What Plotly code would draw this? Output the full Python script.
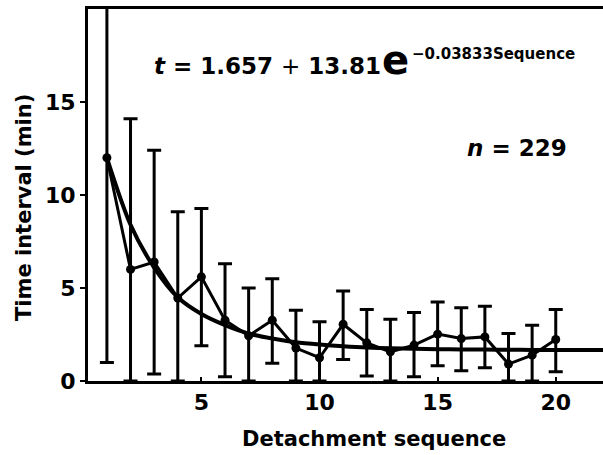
import plotly.graph_objects as go

# ---- data ----
sequence = list(range(1, 21))
mean_interval = [12.0, 6.0, 6.4, 4.46, 5.6, 3.27, 2.43, 3.27, 1.77, 1.25,
                 3.05, 2.05, 1.57, 1.93, 2.52, 2.28, 2.37, 0.91, 1.39, 2.23]
err_upper = [23.0, 14.1, 12.4, 9.1, 9.27, 6.3, 5.0, 5.5, 3.8, 3.18,
             4.84, 3.84, 3.32, 3.68, 4.25, 3.94, 4.02, 2.55, 3.0, 3.84]
err_lower = [1.0, 0.0, 0.37, 0.0, 1.9, 0.23, 0.0, 0.95, 0.0, 0.0,
             1.16, 0.27, 0.0, 0.23, 0.82, 0.55, 0.71, 0.0, 0.0, 0.5]

fit_x = list(range(1, 23))
fit_y = [12.0, 8.4, 6.1, 4.5, 3.6, 3.0, 2.55, 2.28, 2.08, 1.96, 1.87, 1.8,
         1.76, 1.73, 1.71, 1.70, 1.69, 1.68, 1.67, 1.67, 1.66, 1.66]

x_ticks = [5, 10, 15, 20]
y_ticks = [0, 5, 10, 15]

eq_main = "<i>t</i> = 1.657 <span style='font-weight:normal'>+</span> 13.81"
eq_e = "e"
eq_sup = "\u22120.03833Sequence"
n_label = "<i>n</i> = 229"
x_title = "Detachment sequence"
y_title = "Time interval (min)"

FONT = "DejaVu Sans"

plus = [u - m for u, m in zip(err_upper, mean_interval)]
minus = [m - l for m, l in zip(mean_interval, err_lower)]

fig = go.Figure()
fig.add_trace(go.Scatter(
    x=fit_x, y=fit_y, mode="lines",
    line=dict(color="black", width=4, shape="spline", smoothing=0.8),
    hoverinfo="skip", showlegend=False))
fig.add_trace(go.Scatter(
    x=sequence, y=mean_interval, mode="lines+markers",
    line=dict(color="black", width=3),
    marker=dict(color="black", size=9),
    error_y=dict(type="data", array=plus, arrayminus=minus, symmetric=False,
                 color="black", thickness=3, width=7),
    showlegend=False))

fig.update_layout(
    width=603, height=455,
    margin=dict(l=88, r=0, t=9, b=74),
    plot_bgcolor="white", paper_bgcolor="white",
    font=dict(family=FONT, color="black", size=22, weight="bold"),
    xaxis=dict(range=[0.2, 22.0], tickvals=x_ticks, ticks="inside", ticklen=4,
               tickwidth=2, tickcolor="black", showline=True, linecolor="black",
               linewidth=3, mirror=True, showgrid=False, zeroline=False,
               automargin=False,
               tickfont=dict(size=22, family=FONT, weight="bold")),
    yaxis=dict(range=[0, 20], tickvals=y_ticks, ticks="outside", ticklen=5,
               tickwidth=2, tickcolor="black", showline=True, linecolor="black",
               linewidth=3, showgrid=False, zeroline=False, automargin=False,
               tickfont=dict(size=22, family=FONT, weight="bold")),
)

def px(X):
    return (X - 88) / 515.0

def py(Y):
    return (381 - Y) / 372.0

fig.add_annotation(xref="paper", yref="paper", x=px(152), y=py(66), xanchor="left",
                   yanchor="middle", text=eq_main, showarrow=False,
                   font=dict(size=23, family=FONT, weight="bold"))
fig.add_annotation(xref="paper", yref="paper", x=px(380), y=py(60), xanchor="left",
                   yanchor="middle", text=eq_e, showarrow=False,
                   font=dict(size=40, family=FONT, weight="bold"))
fig.add_annotation(xref="paper", yref="paper", x=px(410), y=py(54), xanchor="left",
                   yanchor="middle", text=eq_sup, showarrow=False,
                   font=dict(size=15, family=FONT, weight="bold"))
fig.add_annotation(xref="paper", yref="paper", x=px(569), y=py(148), xanchor="right",
                   yanchor="middle", text=n_label, showarrow=False,
                   font=dict(size=23, family=FONT, weight="bold"))
# axis titles
fig.add_annotation(xref="paper", yref="paper", x=px(374), y=py(439), xanchor="center",
                   yanchor="middle", text=x_title, showarrow=False,
                   font=dict(size=21, family=FONT, weight="bold"))
fig.add_annotation(xref="paper", yref="paper", x=px(24), y=py(208), xanchor="center",
                   yanchor="middle", text=y_title, showarrow=False, textangle=-90,
                   font=dict(size=21, family=FONT, weight="bold"))

fig.write_html("out.html",
               config={"displayModeBar": False},
               post_script="document.body.style.margin='0px';"
                           "document.body.style.overflow='hidden';")
